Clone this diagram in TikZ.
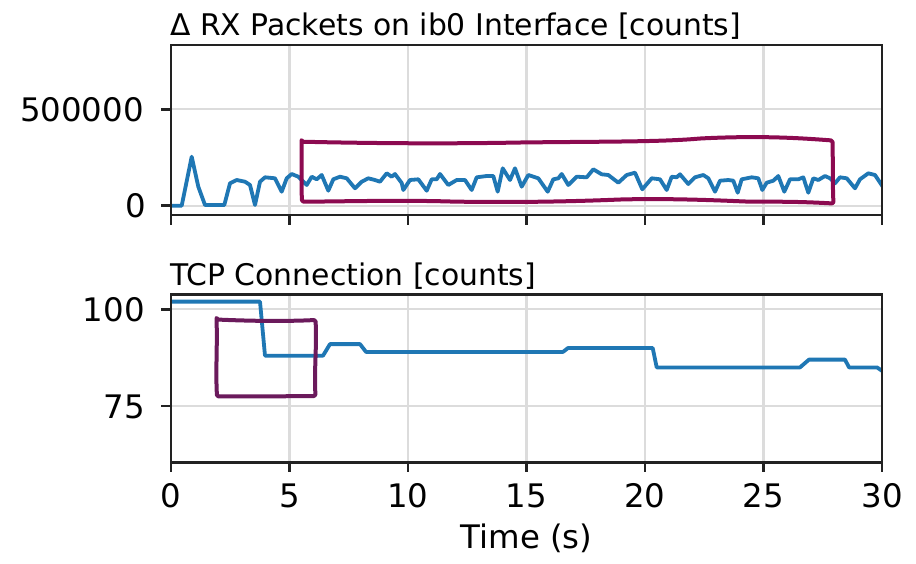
\documentclass[tikz,border=0pt]{standalone}
\usepackage{fontspec}
\setmainfont{DejaVu Sans}
\definecolor{mplblue}{HTML}{1F77B4}
\definecolor{gridgray}{HTML}{DCDCDC}
\definecolor{spine}{HTML}{222222}
\definecolor{markA}{HTML}{8C0A50}
\definecolor{markB}{HTML}{6B1A5C}
\tikzset{
  spinebox/.style={draw=spine, line width=2.8pt},
  gridline/.style={draw=gridgray, line width=2.1pt},
  tickmark/.style={draw=spine, line width=2.6pt},
  series/.style={draw=mplblue, line width=3.8pt, line join=round, line cap=round},
  ticklabel/.style={inner sep=0pt, font=\fontsize{32.4}{32.4}\selectfont},
  paneltitle/.style={inner sep=0pt, anchor=base west, font=\fontsize{29.8}{29.8}\selectfont},
  callout/.style={line width=4pt, line join=round, rounded corners=1.5pt},
}
\begin{document}
\begin{tikzpicture}[x=1pt, y=-1pt]
\useasboundingbox (0,0) rectangle (916,563);
\fill[white] (0,0) rectangle (916,563);

% ---------- upper panel: received packets ----------
\coordinate (A1) at (171,45);
\coordinate (A2) at (882,215);
\foreach \gx in {289.5,408,526.5,645,763.5}
  \draw[gridline] (\gx,45) -- (\gx,215);
\foreach \gy in {109.3,205.7}
  \draw[gridline] (171,\gy) -- (882,\gy);

\begin{scope}
\clip (A1) rectangle (A2);
\draw[series] (170,205.7) -- (181.7,205.7) -- (191.7,156.7) -- (198.3,186.7) -- (205,205) -- (224.3,205)
 -- (230,183.3) -- (236.7,180) -- (245,181.7) -- (250,185) -- (255,205) -- (260,181.7) -- (265,177.3)
 -- (275,178.3) -- (281.7,191.7) -- (286.7,178.3) -- (291.7,174) -- (298.3,176.7) -- (306.7,185)
 -- (311.7,176.7) -- (316.7,179.3) -- (321.7,175) -- (328.3,190.7) -- (333.3,179.3) -- (340,176.7)
 -- (346.7,178.3) -- (355,188.3) -- (361.7,181.7) -- (368.3,178.3) -- (375,180) -- (380,181.7)
 -- (386.7,173.3) -- (391.7,176.7) -- (395,174) -- (401.7,183) -- (403.3,190) -- (410,180)
 -- (418.3,179.3) -- (426.7,190.7) -- (431.7,179.3) -- (436.7,179.3) -- (440,174) -- (448.3,185)
 -- (456.7,180) -- (465,180) -- (471.7,190) -- (476.7,177.3) -- (486.7,176) -- (493.3,176)
 -- (497.7,191.7) -- (502.7,168.3) -- (510,180) -- (515,168.3) -- (521.7,186.7) -- (528.3,175)
 -- (538.3,178.3) -- (547.7,191.7) -- (553.3,179.3) -- (558.3,178.3) -- (561.7,174) -- (568.3,185)
 -- (576.7,176.7) -- (586.7,177.3) -- (593.3,169.3) -- (601.7,174.3) -- (608.3,175) -- (618.3,182.7)
 -- (626.7,175) -- (635,172.7) -- (642.3,189.3) -- (651.7,178.3) -- (660,179.3) -- (666.7,190)
 -- (671.7,176.7) -- (676.7,177.3) -- (680,174.3) -- (688.3,184) -- (695,177.3) -- (703.3,175)
 -- (708.3,178.3) -- (715,191.7) -- (720,180.7) -- (728.3,180) -- (733.3,180.7) -- (737.7,192.7)
 -- (741.7,179.3) -- (751.7,177.3) -- (758.3,178.3) -- (762.3,190) -- (766.7,182.7) -- (773.3,180.7)
 -- (778.3,176) -- (784.3,191.7) -- (790,179.3) -- (798.3,179.3) -- (803.3,177.3) -- (808.3,192.7)
 -- (813.3,178.3) -- (818.3,180) -- (825,176) -- (830,178.3) -- (835,183.3) -- (840,177.3)
 -- (846.7,178.3) -- (855,188.3) -- (860,179.3) -- (868.3,173.3) -- (875,175) -- (883,187);
\end{scope}
\draw[spinebox] (A1) rectangle (A2);
\foreach \gx in {171,289.5,408,526.5,645,763.5,882}
  \draw[tickmark] (\gx,215) -- (\gx,225);
\foreach \gy in {109.3,205.7}
  \draw[tickmark] (161,\gy) -- (171,\gy);
\node[ticklabel, anchor=east] (ya500k) at (144,109.8) {500000};
\node[ticklabel, anchor=east] (ya0) at (146,206.2) {0};
\node[paneltitle] (titleA) at (170,35) {Δ RX Packets on ib0 Interface [counts]};

% hand-drawn highlight around the steady-state traffic
\draw[callout, markA] (301.5,141.7) .. controls (380,143.5) and (450,143.8) .. (520,142.5)
  .. controls (600,141.5) and (660,142) .. (700,138.5) .. controls (760,135.5) and (800,138) .. (832.5,140.5)
  .. controls (833,160) and (832.5,185) .. (833.5,203.5)
  .. controls (790,201) and (770,202) .. (745,201.5) .. controls (700,199.5) and (660,198.5) .. (620,199.5)
  .. controls (560,202) and (500,202.5) .. (450,201.5) .. controls (400,200) and (340,201.5) .. (302,201.7)
  .. controls (301,180) and (302,160) .. cycle;

% ---------- lower panel: TCP connections ----------
\coordinate (B1) at (171,294.3);
\coordinate (B2) at (882,462.3);
\foreach \gx in {289.5,408,526.5,645,763.5}
  \draw[gridline] (\gx,294.3) -- (\gx,462.3);
\foreach \gy in {309.3,406}
  \draw[gridline] (171,\gy) -- (882,\gy);

\begin{scope}
\clip (B1) rectangle (B2);
\draw[series] (170,301.6) -- (260,301.6) -- (265,355.7) -- (323,355.7) -- (330,344.1) -- (360,344.1)
 -- (366,351.9) -- (563,351.9) -- (568,348) -- (652.7,348) -- (656.7,367.4) -- (800,367.4)
 -- (809,359.6) -- (845,359.6) -- (849,367.4) -- (877,367.4) -- (883,371.5);
\end{scope}
\draw[spinebox] (B1) rectangle (B2);
\foreach \gx in {171,289.5,408,526.5,645,763.5,882}
  \draw[tickmark] (\gx,462.3) -- (\gx,472.3);
\foreach \gy in {309.3,406}
  \draw[tickmark] (161,\gy) -- (171,\gy);
\node[ticklabel, anchor=east] (yb100) at (145,309.8) {100};
\node[ticklabel, anchor=east] (yb75) at (145,406.5) {75};
\foreach \gx/\lab [count=\i] in {171/0,289.5/5,408/10,526.5/15,645/20,763.5/25,882/30}
  \node[ticklabel, anchor=north] (xb\i) at (\gx,483.5) {\lab};
\node[ticklabel, anchor=base] (xlabel) at (526.5,548) {Time (s)};
\node[paneltitle] (titleB) at (170,285) {TCP Connection [counts]};

% hand-drawn highlight around the drop in connections
\draw[callout, markB] (216.5,319.5) .. controls (250,321) and (285,321.5) .. (315.5,320)
  .. controls (317,345) and (314,370) .. (315.5,396)
  .. controls (285,396.5) and (250,396) .. (217,396.5)
  .. controls (215.5,370) and (217.5,345) .. cycle;
\end{tikzpicture}
\end{document}
